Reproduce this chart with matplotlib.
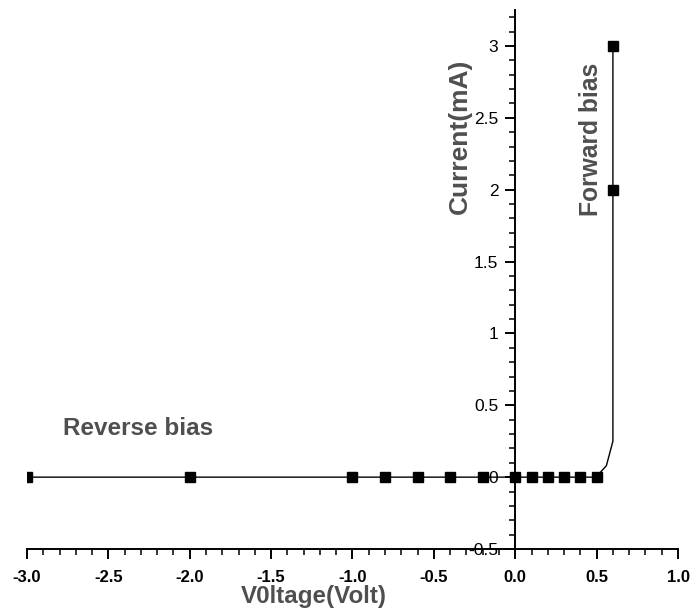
import numpy as np
import matplotlib.pyplot as plt
from matplotlib.ticker import MultipleLocator, FuncFormatter

plt.rcParams['font.family'] = ['Liberation Sans', 'DejaVu Sans']
plt.rcParams['axes.unicode_minus'] = False

# measured points (V, mA)
volt = [-3.0, -2.0, -1.0, -0.8, -0.6, -0.4, -0.2, 0.0, 0.1, 0.2, 0.3, 0.4, 0.5, 0.6, 0.6]
curr = [0, 0, 0, 0, 0, 0, 0, 0, 0, 0, 0, 0, 0, 2, 3]

# smoothed connecting line as it appears in the picture
line_v = [-3.0, -2.0, -1.0, -0.8, -0.6, -0.4, -0.2, 0.0, 0.1, 0.2, 0.3, 0.4, 0.5, 0.52, 0.56, 0.6, 0.6, 0.6]
line_i = [0, 0, 0, 0, 0, 0, 0, 0, 0, 0, 0, 0, 0, 0.03, 0.08, 0.25, 2, 3]

gray = '#4f4f4f'

fig = plt.figure(figsize=(6.91, 6.09), dpi=100)
ax = fig.add_axes([0.039, 0.0985, 0.9422, 0.8851])

ax.plot(line_v, line_i, color='black', linewidth=1.0)
ax.plot(volt, curr, linestyle='none', marker='s', markersize=7.5, color='black')

ax.set_xlim(-3.0, 1.0)
ax.set_ylim(-0.5, 3.25)

ax.spines['top'].set_visible(False)
ax.spines['right'].set_visible(False)
ax.spines['left'].set_position(('data', 0))
ax.spines['left'].set_linewidth(1.4)
ax.spines['bottom'].set_linewidth(1.4)

ax.xaxis.set_major_locator(MultipleLocator(0.5))
ax.xaxis.set_minor_locator(MultipleLocator(0.1))
ax.yaxis.set_major_locator(MultipleLocator(0.5))
ax.yaxis.set_minor_locator(MultipleLocator(0.1))
ax.xaxis.set_major_formatter(FuncFormatter(lambda v, p: '%.1f' % v))
ax.yaxis.set_major_formatter(FuncFormatter(lambda v, p: ('%g' % v)))

ax.tick_params(axis='both', which='major', direction='out', length=7.2, width=1.4)
ax.tick_params(axis='both', which='minor', direction='out', length=4, width=1.1)
ax.tick_params(axis='x', which='major', labelsize=12, pad=8)
ax.tick_params(axis='y', which='major', labelsize=12.5, pad=5)
for lab in ax.get_xticklabels():
    lab.set_fontweight('bold')

ax.set_xlabel('V0ltage(Volt)', fontsize=17.4, fontweight='bold', color=gray)
ax.xaxis.set_label_coords(0.441, -0.066)

ax.text(-0.34, 2.37, 'Current(mA)', rotation=90, fontsize=19, fontweight='bold',
        color=gray, ha='center', va='center')
ax.text(0.467, 2.35, 'Forward bias', rotation=90, fontsize=17.7, fontweight='bold',
        color=gray, ha='center', va='center')
ax.text(-2.32, 0.34, 'Reverse bias', fontsize=17.5, fontweight='bold',
        color=gray, ha='center', va='center')

fig.savefig('out.png', dpi=100)
